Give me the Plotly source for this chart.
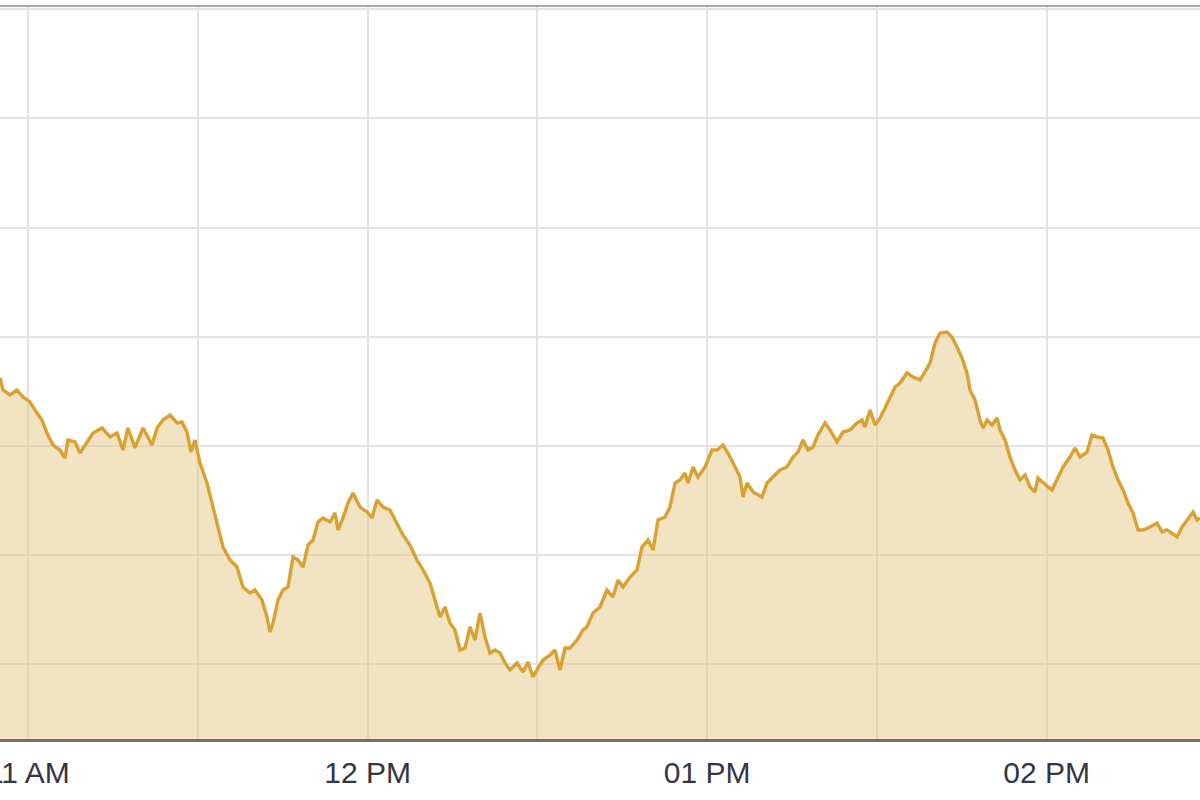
import pandas as pd
import plotly.graph_objects as go

# Session start (tick anchor) and minutes elapsed from it for each reading
session_start = "2024-01-01 11:00:00"
minutes = [
    -5.00, -4.47, -3.23, -2.00, -0.94, 0.30, 1.18, 2.42, 3.31, 4.37,
    5.60, 6.49, 7.02, 8.26, 9.14, 10.38, 11.44, 13.03, 14.44, 15.68,
    16.74, 17.62, 18.86, 20.28, 21.87, 22.75, 23.81, 25.05, 26.29, 27.17,
    28.05, 28.76, 29.47, 30.35, 31.59, 32.65, 33.53, 34.42, 35.65, 36.89,
    37.95, 39.19, 40.07, 41.31, 42.19, 42.73, 43.26, 44.14, 45.02, 45.91,
    46.79, 47.68, 48.56, 49.44, 50.33, 51.21, 52.09, 53.33, 54.22, 54.75,
    55.63, 56.51, 57.40, 58.63, 59.87, 60.76, 61.64, 62.70, 63.94, 65.17,
    66.24, 67.47, 68.71, 69.77, 71.01, 71.89, 72.78, 73.66, 74.54, 75.43,
    76.31, 77.20, 78.08, 78.96, 79.85, 80.73, 81.61, 82.50, 83.38, 84.27,
    85.15, 86.39, 87.45, 88.33, 89.22, 90.10, 90.98, 92.22, 93.10, 93.99,
    94.87, 95.76, 96.99, 98.05, 98.76, 99.82, 101.06, 102.30, 103.36, 104.24,
    105.13, 106.36, 107.60, 108.48, 109.54, 110.43, 111.31, 112.55, 113.43, 114.32,
    115.20, 116.08, 116.61, 117.50, 118.38, 119.62, 120.86, 121.74, 122.80, 123.68,
    124.92, 125.81, 126.34, 127.04, 128.11, 129.70, 130.58, 131.64, 132.88, 134.11,
    135.18, 136.06, 136.94, 137.83, 138.71, 139.59, 140.83, 141.72, 142.95, 144.01,
    145.25, 146.49, 147.37, 147.90, 148.79, 149.67, 150.55, 151.44, 152.32, 153.21,
    154.09, 155.33, 156.39, 157.62, 158.51, 159.39, 160.28, 161.16, 162.40, 163.28,
    164.17, 165.05, 165.93, 166.46, 167.35, 168.23, 168.76, 169.47, 170.35, 171.24,
    171.77, 172.65, 173.53, 174.42, 175.30, 176.19, 177.07, 177.95, 178.48, 179.37,
    180.25, 180.96, 181.84, 182.90, 184.14, 185.02, 185.91, 187.15, 188.03, 188.92,
    189.98, 190.86, 191.74, 192.63, 193.51, 194.40, 195.28, 196.16, 197.05, 198.29,
    199.52, 200.41, 201.29, 202.17, 203.06, 203.94, 204.83, 205.89, 206.59, 207.12,
]
prices = [
    1626.23, 1625.13, 1624.67, 1625.13, 1624.49, 1624.03, 1623.30, 1622.38, 1621.19, 1620.09,
    1619.63, 1618.90, 1620.55, 1620.37, 1619.36, 1620.28, 1621.19, 1621.65, 1620.83, 1621.19,
    1619.63, 1621.65, 1619.82, 1621.65, 1620.09, 1621.65, 1622.38, 1622.84, 1622.11, 1622.20,
    1621.28, 1619.45, 1620.55, 1618.44, 1616.61, 1614.41, 1612.58, 1610.75, 1609.56, 1608.92,
    1607.09, 1606.54, 1606.81, 1605.90, 1604.34, 1602.97, 1603.79, 1605.90, 1606.81, 1607.09,
    1609.84, 1609.56, 1608.92, 1610.93, 1611.39, 1613.04, 1613.41, 1613.04, 1613.87, 1612.31,
    1613.41, 1614.78, 1615.70, 1614.41, 1613.96, 1613.41, 1615.06, 1614.41, 1614.14, 1612.95,
    1611.85, 1610.93, 1609.56, 1608.65, 1607.45, 1605.90, 1604.34, 1605.26, 1603.79, 1603.15,
    1601.32, 1601.50, 1603.43, 1602.23, 1604.71, 1602.51, 1601.04, 1601.32, 1601.04, 1600.13,
    1599.49, 1600.13, 1599.30, 1600.22, 1598.85, 1599.67, 1600.40, 1600.86, 1601.32, 1599.49,
    1601.50, 1601.50, 1602.23, 1603.15, 1603.43, 1604.71, 1605.26, 1606.81, 1606.17, 1607.73,
    1607.09, 1608.00, 1608.65, 1610.75, 1611.39, 1610.48, 1613.22, 1613.50, 1614.41, 1616.61,
    1616.89, 1617.53, 1616.61, 1618.08, 1617.16, 1618.08, 1619.63, 1619.63, 1620.09, 1619.36,
    1618.08, 1617.16, 1615.33, 1616.61, 1615.79, 1615.33, 1616.61, 1617.16, 1617.80, 1618.08,
    1618.99, 1619.45, 1620.55, 1619.63, 1619.91, 1621.01, 1622.11, 1621.47, 1620.37, 1621.28,
    1621.47, 1622.11, 1622.38, 1621.74, 1623.30, 1621.92, 1622.57, 1623.48, 1624.40, 1625.40,
    1625.77, 1626.69, 1626.32, 1626.05, 1626.78, 1627.60, 1629.43, 1630.35, 1630.44, 1629.98,
    1629.07, 1628.06, 1626.69, 1625.13, 1624.21, 1622.38, 1621.65, 1622.38, 1621.92, 1622.57,
    1621.47, 1620.55, 1618.99, 1617.80, 1616.89, 1617.35, 1616.25, 1615.79, 1617.07, 1616.61,
    1616.25, 1615.97, 1616.89, 1618.08, 1618.99, 1619.82, 1618.99, 1619.45, 1621.01, 1620.83,
    1620.73, 1619.63, 1618.08, 1616.89, 1615.97, 1614.78, 1613.87, 1612.31, 1612.31, 1612.58,
    1612.95, 1612.13, 1612.31, 1612.03, 1611.67, 1612.58, 1613.22, 1613.96, 1613.22, 1613.41,
]

view_start = "2024-01-01 10:55:00"
view_end = "2024-01-01 14:27:07"
y_range = [1593.17, 1660.29]

times = pd.Timestamp(session_start) + pd.to_timedelta(minutes, unit="min")

LINE = "rgb(219,161,48)"
FILL = "rgba(229,201,133,0.5)"
GRID = "#e3e3e3"

fig = go.Figure()
fig.add_trace(go.Scatter(
    x=times, y=prices, mode="lines",
    line=dict(color=LINE, width=3.4),
    fill="tozeroy", fillcolor=FILL,
    hoverinfo="skip", showlegend=False,
))

fig.update_layout(
    width=1200, height=800,
    margin=dict(l=0, r=0, t=6, b=61, autoexpand=False),
    paper_bgcolor="white", plot_bgcolor="white",
    font=dict(family="Liberation Sans, Arial, sans-serif", size=30, color="#353545"),
    showlegend=False,
)
fig.update_xaxes(
    type="date", range=[view_start, view_end],
    tick0=session_start, dtick=3600000, tickformat="%I %p",
    showgrid=True, gridcolor=GRID, gridwidth=2,
    minor=dict(dtick=1800000, tick0=session_start, showgrid=True,
               gridcolor=GRID, gridwidth=2),
    ticks="", showline=True, linecolor="#707070", linewidth=2.5,
    ticklabeloverflow="allow", ticklabelstandoff=5, automargin=False,
    zeroline=False, fixedrange=True,
)
fig.update_yaxes(
    range=y_range, tick0=1600, dtick=10,
    showgrid=True, gridcolor=GRID, gridwidth=2,
    showticklabels=False, ticks="", zeroline=False, showline=False,
    automargin=False, fixedrange=True,
)
fig.add_shape(type="line", xref="paper", yref="paper", x0=0, x1=1, y0=1, y1=1,
              line=dict(color="#a8a8a8", width=2))

fig.write_html(
    "out.html",
    config={"displayModeBar": False},
    post_script="document.body.style.margin='0';document.body.style.overflow='hidden';",
)
